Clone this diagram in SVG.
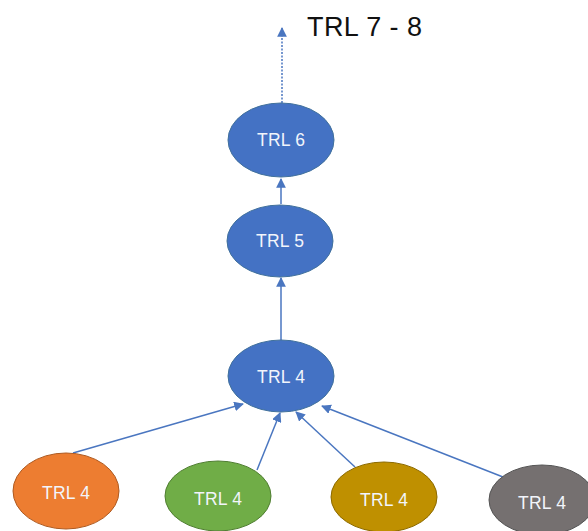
<svg xmlns="http://www.w3.org/2000/svg" width="588" height="531" viewBox="0 0 588 531">
<style>
.n{stroke:#41719C;stroke-width:1}
.t{font-family:"Liberation Sans",Arial,sans-serif;font-size:17.5px;fill:#F2F5FB;text-anchor:middle;dominant-baseline:central}
.c{stroke:#4A76C0;stroke-width:1.5;fill:none;marker-end:url(#ah)}
</style>
<defs>
<marker id="ah" viewBox="0 0 10 10" refX="9" refY="5" markerWidth="6.5" markerHeight="6.5" orient="auto" markerUnits="strokeWidth">
<path d="M0,0 L10,5 L0,10 z" fill="#4A76C0"/>
</marker>
</defs>
<rect width="588" height="531" fill="#fff"/>
<text x="307" y="36" font-family="'Liberation Sans',Arial,sans-serif" font-size="27" fill="#111" textLength="115">TRL 7 - 8</text>
<g id="connectors">
<path class="c" d="M282,103 L282,28" stroke-dasharray="2,1.5"/>
<path class="c" d="M281,204 L281,179"/>
<path class="c" d="M281,340 L281,278"/>
<path class="c" d="M73,453 L243,404"/>
<path class="c" d="M257,470 L280,413"/>
<path class="c" d="M355,467 L296,412"/>
<path class="c" d="M503,477 L322,406"/>
</g>
<g id="trl6"><ellipse class="n" cx="281" cy="140" rx="53" ry="37" fill="#4472C4"/><text class="t" x="281" y="140" textLength="48">TRL 6</text></g>
<g id="trl5"><ellipse class="n" cx="280" cy="241" rx="53" ry="36" fill="#4472C4"/><text class="t" x="280" y="241" textLength="48">TRL 5</text></g>
<g id="trl4"><ellipse class="n" cx="281" cy="376" rx="53" ry="36" fill="#4472C4"/><text class="t" x="281" y="377" textLength="48">TRL 4</text></g>
<g id="orange"><ellipse cx="66" cy="491" rx="53" ry="38" fill="#ED7D31" stroke="#AE5A21"/><text class="t" x="66" y="493" textLength="48">TRL 4</text></g>
<g id="green"><ellipse cx="218" cy="496" rx="53" ry="35" fill="#70AD47" stroke="#507E32"/><text class="t" x="218" y="499" textLength="48">TRL 4</text></g>
<g id="gold"><ellipse cx="384" cy="497" rx="53" ry="35" fill="#BF9000" stroke="#8C6A00"/><text class="t" x="384" y="500" textLength="48">TRL 4</text></g>
<g id="gray"><ellipse cx="542" cy="500" rx="53" ry="35" fill="#757070" stroke="#555"/><text class="t" x="542" y="503" textLength="48">TRL 4</text></g>
</svg>
